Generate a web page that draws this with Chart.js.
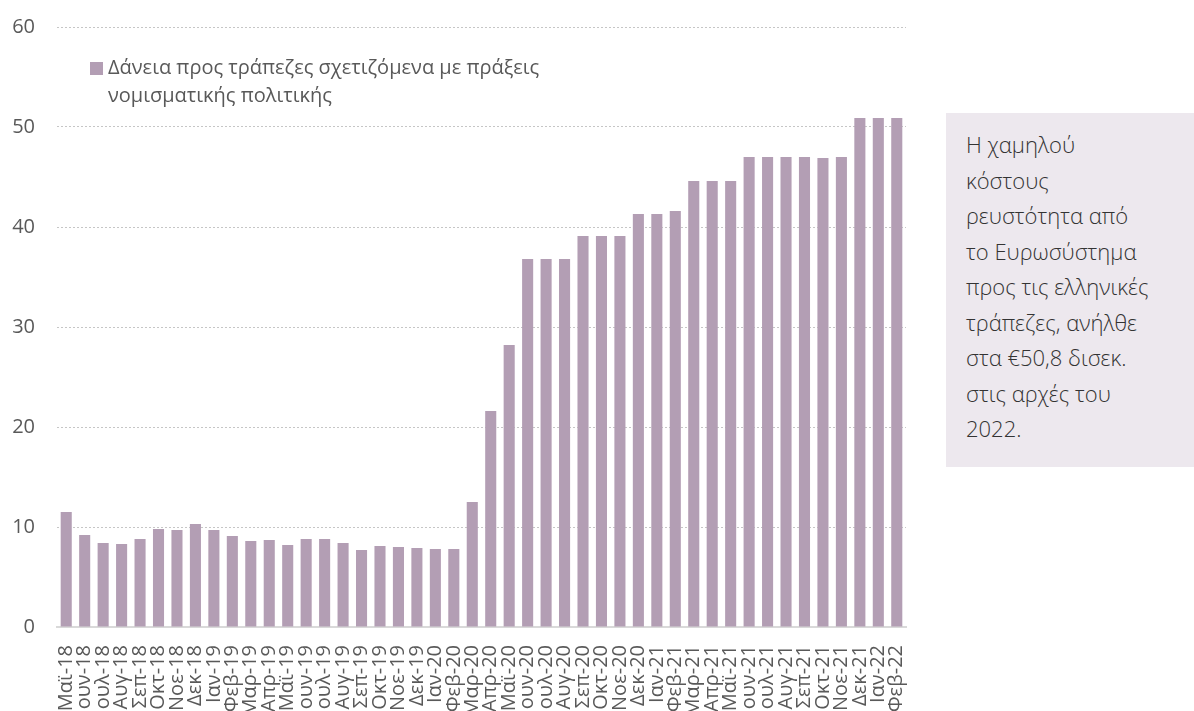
<!DOCTYPE html>
<html lang="el">
<head>
<meta charset="utf-8">
<title>Δάνεια προς τράπεζες</title>
<script src="https://cdn.jsdelivr.net/npm/chart.js@4/dist/chart.umd.min.js"></script>
<style>
  html, body { margin: 0; padding: 0; background: #fff; overflow: hidden; }
  #wrap { position: relative; width: 1194px; height: 711px; }
  #legend {
    position: absolute; left: 90px; top: 53px;
    font: 20px "Open Sans", sans-serif; color: #595959; line-height: 28px;
  }
  #legend .box {
    display: inline-block; width: 13px; height: 13px; margin-right: 5px;
    vertical-align: -1px;
  }
  #legend .l2 { padding-left: 18px; }
  #note {
    position: absolute; left: 946px; top: 113px; width: 248px; height: 354px;
    box-sizing: border-box; padding: 14px 0 0 20px; background: #ede8ee;
    font: 300 22px "Open Sans", sans-serif; color: #333; line-height: 35.5px;
  }
</style>
</head>
<body>
<div id="wrap">
  <canvas id="dataChart" width="1194" height="711"></canvas>
  <div id="legend"></div>
  <div id="note">Η χαμηλού<br>κόστους<br>ρευστότητα από<br>το Ευρωσύστημα<br>προς τις ελληνικές<br>τράπεζες, ανήλθε<br>στα €50,8 δισεκ.<br>στις αρχές του<br>2022.</div>
</div>
<script>
// μήνες (άξονας x)
var months = ["Μαϊ-18", "Ιουν-18", "Ιουλ-18", "Αυγ-18", "Σεπ-18", "Οκτ-18", "Νοε-18", "Δεκ-18",
  "Ιαν-19", "Φεβ-19", "Μαρ-19", "Απρ-19", "Μαϊ-19", "Ιουν-19", "Ιουλ-19", "Αυγ-19", "Σεπ-19", "Οκτ-19", "Νοε-19", "Δεκ-19",
  "Ιαν-20", "Φεβ-20", "Μαρ-20", "Απρ-20", "Μαϊ-20", "Ιουν-20", "Ιουλ-20", "Αυγ-20", "Σεπ-20", "Οκτ-20", "Νοε-20", "Δεκ-20",
  "Ιαν-21", "Φεβ-21", "Μαρ-21", "Απρ-21", "Μαϊ-21", "Ιουν-21", "Ιουλ-21", "Αυγ-21", "Σεπ-21", "Οκτ-21", "Νοε-21", "Δεκ-21",
  "Ιαν-22", "Φεβ-22"];

// δισεκ. ευρώ
var loans = [11.5, 9.2, 8.4, 8.3, 8.8, 9.8, 9.7, 10.3,
  9.7, 9.1, 8.6, 8.7, 8.2, 8.8, 8.8, 8.4, 7.7, 8.1, 8.0, 7.9,
  7.8, 7.8, 12.5, 21.6, 28.2, 36.8, 36.8, 36.8, 39.1, 39.1, 39.1, 41.3,
  41.3, 41.6, 44.6, 44.6, 44.6, 47.0, 47.0, 47.0, 47.0, 46.9, 47.0, 50.9,
  50.9, 50.9];

var seriesName = ["Δάνεια προς τράπεζες σχετιζόμενα με πράξεις", "νομισματικής πολιτικής"];
var yTicks = [0, 10, 20, 30, 40, 50, 60];

var barColor = "#b39eb4";
var tickColor = "#595959";

var ctx = document.getElementById("dataChart");

var chart = new Chart(ctx, {
  type: 'bar',
  data: {
    labels: months,
    datasets: [{
      label: seriesName.join(" "),
      data: loans,
      backgroundColor: barColor,
      categoryPercentage: 1,
      barPercentage: 0.6
    }]
  },
  options: {
    responsive: false,
    animation: false,
    layout: { padding: { left: 0, right: 288, top: 27, bottom: 0 } },
    plugins: {
      legend: { display: false },
      tooltip: { enabled: false }
    },
    scales: {
      x: {
        grid: { display: false, drawTicks: false },
        border: { display: true, color: "#d9d9d9", width: 2 },
        ticks: {
          color: tickColor,
          font: { family: "Open Sans", size: 20 },
          minRotation: 90, maxRotation: 90,
          autoSkip: false,
          padding: 18
        },
        afterFit: function (axis) { axis.height = 84; axis.paddingLeft = 0; axis.paddingRight = 0; }
      },
      y: {
        min: yTicks[0],
        max: yTicks[yTicks.length - 1],
        grid: { color: "#c6c6c6", lineWidth: 1, drawTicks: false },
        border: { display: false, dash: [2, 2] },
        ticks: {
          stepSize: 10,
          color: tickColor,
          font: { family: "Open Sans", size: 20 },
          padding: 22
        },
        afterFit: function (axis) { axis.width = 57; axis.paddingTop = 0; axis.paddingBottom = 0; }
      }
    }
  }
});

// υπόμνημα σε δύο γραμμές, όπως στο πρωτότυπο
var lg = document.getElementById("legend");
lg.innerHTML = '<span class="box" style="background:' + chart.data.datasets[0].backgroundColor + '"></span>' +
  seriesName[0] + '<br><span class="l2">' + seriesName[1] + '</span>';
</script>
</body>
</html>
